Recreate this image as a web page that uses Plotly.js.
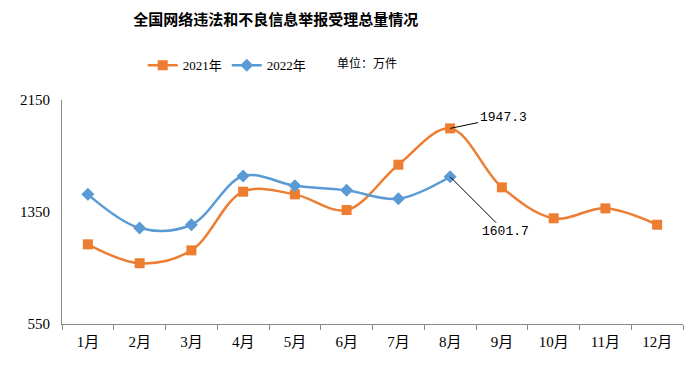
<!DOCTYPE html>
<html>
<head>
<meta charset="utf-8">
<script src="https://cdn.plot.ly/plotly-3.0.1.min.js"></script>
<style>html,body{margin:0;padding:0;background:#fff;}#chart{width:693px;height:372px;}</style>
</head>
<body>
<div id="chart"></div>
<script>
const months = ["1月","2月","3月","4月","5月","6月","7月","8月","9月","10月","11月","12月"];
const values2021 = [1119, 984, 1076, 1495, 1476, 1364, 1688, 1947.3, 1526, 1305, 1376, 1259];
const values2022 = [1476, 1236, 1259, 1607, 1538, 1505, 1445, 1601.7];
const months2022 = months.slice(0, values2022.length);
const yTicks = [550, 1350, 2150];

const serif = "Liberation Serif, Times New Roman, Noto Sans CJK SC, serif";

const traces = [
  {
    name: "2021年", x: months, y: values2021, type: "scatter", mode: "lines+markers",
    line: {color: "#ED7D31", width: 2.5, shape: "spline", smoothing: 1},
    marker: {symbol: "square", size: 10, color: "#ED7D31"}
  },
  {
    name: "2022年", x: months2022, y: values2022, type: "scatter", mode: "lines+markers",
    line: {color: "#5B9BD5", width: 2.5, shape: "spline", smoothing: 1},
    marker: {symbol: "diamond", size: 10, color: "#5B9BD5"}
  }
];

const layout = {
  width: 693, height: 372,
  margin: {l: 62, r: 10, t: 100, b: 48},
  paper_bgcolor: "#fff", plot_bgcolor: "#fff",
  title: {text: "<b>全国网络违法和不良信息举报受理总量情况</b>", x: 0.398, xanchor: "center", y: 0.947, yanchor: "middle",
          font: {family: "Noto Sans CJK SC, sans-serif", size: 15, color: "#000"}},
  showlegend: true,
  legend: {orientation: "h", x: 0.13, xanchor: "left", y: 1.155, yanchor: "middle",
           font: {family: serif, size: 13, color: "#000"}, itemwidth: 30},
  xaxis: {
    type: "category", range: [-0.5, 11.5], showline: true, linecolor: "#888", linewidth: 1,
    ticks: "outside", tickson: "boundaries", ticklen: 5, tickcolor: "#888",
    showgrid: false, zeroline: false, ticklabelstandoff: 4,
    tickfont: {family: serif, size: 15, color: "#000"}
  },
  yaxis: {
    range: [550, 2150], tickvals: yTicks, ticktext: yTicks.map(String),
    showline: true, linecolor: "#888", linewidth: 1, ticks: "", showgrid: false, zeroline: false,
    ticklabelstandoff: 8,
    tickfont: {family: serif, size: 15, color: "#000"}
  },
  annotations: [
    {xref: "paper", yref: "paper", x: 0.44, y: 1.168, xanchor: "left", yanchor: "middle",
     text: "单位：万件", showarrow: false, font: {family: "Noto Sans CJK SC, sans-serif", size: 12, color: "#000"}},
    {x: months[7], y: values2021[7], text: values2021[7].toFixed(1), showarrow: true, arrowhead: 0,
     arrowwidth: 1, arrowcolor: "#000", ax: 53, ay: -11, xanchor: "center",
     font: {family: "Liberation Mono, DejaVu Sans Mono, monospace", size: 13, color: "#000"}},
    {x: months2022[7], y: values2022[7], text: values2022[7].toFixed(1), showarrow: true, arrowhead: 0,
     arrowwidth: 1, arrowcolor: "#000", ax: 55, ay: 55, xanchor: "center",
     font: {family: "Liberation Mono, DejaVu Sans Mono, monospace", size: 13, color: "#000"}}
  ]
};

Plotly.newPlot("chart", traces, layout, {displayModeBar: false, staticPlot: true});
</script>
</body>
</html>
